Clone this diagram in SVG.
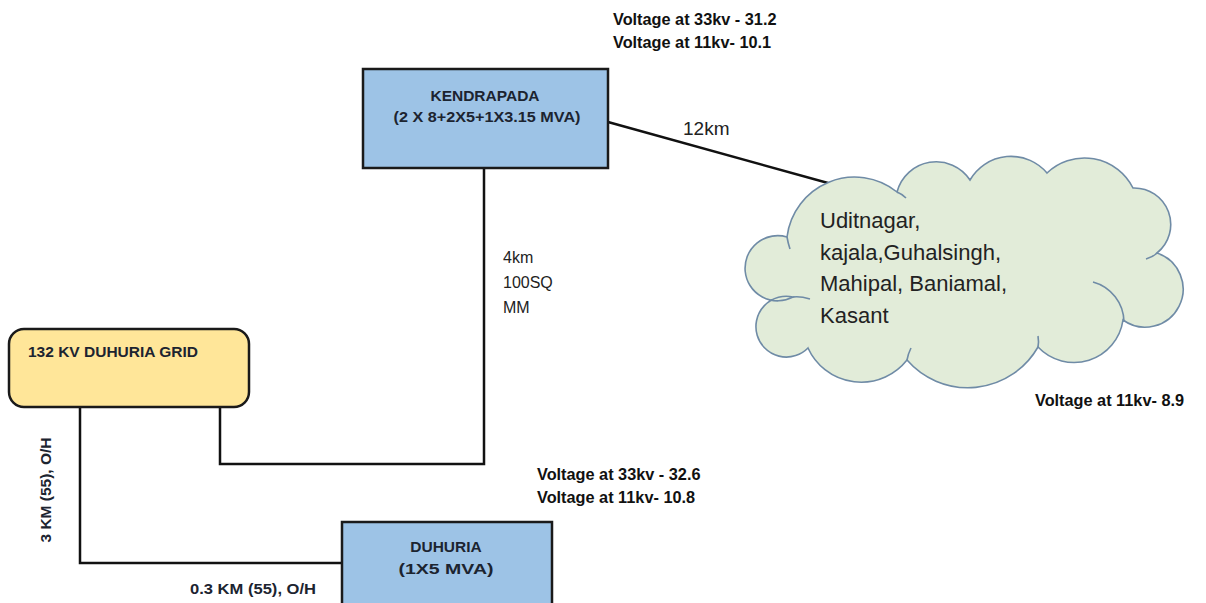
<svg xmlns="http://www.w3.org/2000/svg" width="1206" height="603" viewBox="0 0 1206 603">
<style>
.box{fill:#9DC3E6;stroke:#1a1a1a;stroke-width:2.5}
.grid{fill:#FFE699;stroke:#1a1a1a;stroke-width:2.5}
.cloud{fill:#E2ECD9;stroke:#6F8BA6;stroke-width:1.6}
.inner{fill:none;stroke:#6F8BA6;stroke-width:1.6}
.conn{fill:none;stroke:#111;stroke-width:2.5}
.nt{font-family:"Liberation Sans",Arial,sans-serif;font-weight:bold;font-size:15.5px;fill:#1c2430}
.vt{font-family:"Liberation Sans",Arial,sans-serif;font-weight:bold;font-size:16.3px;fill:#111}
.lb{font-family:"Liberation Sans",Arial,sans-serif;font-size:16px;fill:#222}
.ct{font-family:"Liberation Sans",Arial,sans-serif;font-size:22px;fill:#222}
</style>
<rect width="1206" height="603" fill="#ffffff"/>
<g id="connectors">
<path class="conn" d="M220,407 V464 H484 V168"/>
<path class="conn" d="M80,407 V563 H342"/>
<path class="conn" d="M608,122 L828,183"/>
</g>
<g id="kendrapada">
<rect class="box" x="363" y="69" width="245" height="99"/>
<text class="nt" x="485" y="101" text-anchor="middle">KENDRAPADA</text>
<text class="nt" x="487" y="122" text-anchor="middle" textLength="187" lengthAdjust="spacingAndGlyphs">(2 X 8+2X5+1X3.15 MVA)</text>
</g>
<g id="grid">
<rect class="grid" x="9" y="329" width="240" height="78" rx="15" ry="15"/>
<text class="nt" x="28" y="357">132 KV DUHURIA GRID</text>
</g>
<g id="duhuria">
<rect class="box" x="342" y="522" width="210" height="90"/>
<text class="nt" x="446" y="552" text-anchor="middle">DUHURIA</text>
<text class="nt" x="446" y="574" text-anchor="middle" textLength="95" lengthAdjust="spacingAndGlyphs">(1X5 MVA)</text>
</g>
<g id="cloud">
<path class="cloud" d="M787,237 A68,68 0 0 1 897,192 A40.5,40.5 0 0 1 970,180 A47.3,47.3 0 0 1 1047,173 A54.3,54.3 0 0 1 1133,188 A36.5,36.5 0 0 1 1157,253 A38,38 0 1 1 1123,320 A49.5,49.5 0 0 1 1038,347 A80.7,80.7 0 0 1 907,360 A58.4,58.4 0 0 1 808,348 A30.4,30.4 0 1 1 793,297 A32.6,32.6 0 1 1 787,237 Z"/>
<path class="inner" d="M1093,282 A42,42 0 0 1 1124,322"/>
<path class="inner" d="M1157,253 Q1153,257 1146,259"/>
<path class="inner" d="M793,297 Q800,296 810,299"/>
<path class="inner" d="M787,237 Q788,243 790,249"/>
<path class="inner" d="M897,192 Q902,194 906,198"/>
<path class="inner" d="M907,360 Q908,354 911,348"/>
<path class="inner" d="M1038,347 Q1039,342 1038,336"/>
<text class="ct" x="820" y="228">Uditnagar,</text>
<text class="ct" x="820" y="260">kajala,Guhalsingh,</text>
<text class="ct" x="820" y="291">Mahipal, Baniamal,</text>
<text class="ct" x="820" y="323">Kasant</text>
</g>
<g id="labels">
<text class="vt" x="613" y="25">Voltage at 33kv - 31.2</text>
<text class="vt" x="613" y="48">Voltage at 11kv- 10.1</text>
<text class="vt" x="537" y="480">Voltage at 33kv - 32.6</text>
<text class="vt" x="537" y="503">Voltage at 11kv- 10.8</text>
<text class="vt" x="1035" y="406">Voltage at 11kv- 8.9</text>
<text class="lb" x="683" y="135" style="font-size:19px">12km</text>
<text class="lb" x="503" y="263">4km</text>
<text class="lb" x="503" y="288">100SQ</text>
<text class="lb" x="503" y="313">MM</text>
<text class="nt" x="0" y="0" text-anchor="middle" transform="translate(51,490) rotate(-90)" fill="#222">3 KM (55), O/H</text>
<text class="nt" x="190" y="594" textLength="126" lengthAdjust="spacingAndGlyphs">0.3 KM (55), O/H</text>
</g>
</svg>
